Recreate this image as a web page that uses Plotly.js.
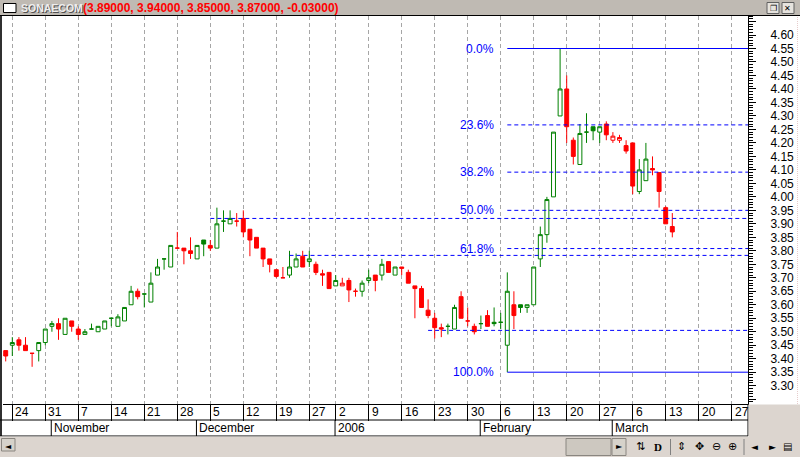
<!DOCTYPE html>
<html><head><meta charset="utf-8">
<script src="https://cdn.plot.ly/plotly-3.0.1.min.js"></script>
<style>html,body{margin:0;padding:0;background:#fff;overflow:hidden}#chart{width:800px;height:457px}</style>
</head><body><div id="chart"></div>
<script>
// ---------- data ----------
const ticker = "SONAECOM";
const opens  = [3.43,3.45,3.47,3.45,3.42,3.43,3.46,3.52,3.53,3.49,3.54,3.51,3.49,3.51,3.50,3.51,3.55,3.52,3.54,3.60,
                3.65,3.64,3.61,3.71,3.77,3.74,3.81,3.81,3.80,3.77,3.84,3.82,3.81,3.91,3.90,3.91,3.92,3.88,3.85,3.81,
                3.77,3.73,3.70,3.71,3.74,3.78,3.76,3.75,3.715,3.72,3.67,3.67,3.69,3.65,3.65,3.69,3.71,3.71,3.76,3.71,
                3.74,3.72,3.67,3.66,3.58,3.55,3.515,3.52,3.51,3.63,3.54,3.52,3.53,3.56,3.535,3.535,3.45,3.60,3.60,3.59,
                3.60,3.77,3.86,4.00,4.30,4.40,4.21,4.12,4.24,4.26,4.24,4.27,4.21,4.21,4.19,4.20,4.02,4.06,4.105,4.09,
                3.96,3.89];
const highs  = [3.43,3.48,3.48,3.48,3.42,3.46,3.51,3.54,3.55,3.55,3.54,3.52,3.51,3.53,3.52,3.54,3.55,3.565,3.59,3.67,
                3.66,3.64,3.72,3.77,3.77,3.82,3.87,3.81,3.85,3.82,3.84,3.84,3.96,3.95,3.95,3.94,3.95,3.88,3.85,3.81,
                3.77,3.73,3.74,3.80,3.79,3.80,3.80,3.76,3.73,3.72,3.71,3.70,3.70,3.66,3.69,3.73,3.71,3.77,3.76,3.74,
                3.74,3.73,3.67,3.67,3.62,3.57,3.53,3.53,3.60,3.65,3.59,3.53,3.56,3.58,3.59,3.57,3.72,3.65,3.60,3.60,
                3.74,3.89,4.00,4.24,4.55,4.45,4.22,4.27,4.31,4.26,4.26,4.28,4.24,4.23,4.21,4.20,4.14,4.20,4.15,4.09,
                3.965,3.94];
const lows   = [3.39,3.41,3.43,3.43,3.37,3.39,3.45,3.50,3.47,3.49,3.50,3.47,3.49,3.51,3.50,3.51,3.52,3.52,3.54,3.60,
                3.62,3.59,3.61,3.71,3.73,3.74,3.81,3.75,3.77,3.77,3.78,3.80,3.81,3.87,3.90,3.89,3.85,3.78,3.81,3.74,
                3.72,3.70,3.70,3.70,3.74,3.74,3.74,3.71,3.67,3.66,3.67,3.67,3.61,3.63,3.63,3.68,3.65,3.69,3.72,3.71,
                3.71,3.68,3.55,3.59,3.55,3.475,3.48,3.49,3.51,3.55,3.52,3.49,3.51,3.52,3.52,3.51,3.35,3.51,3.57,3.57,
                3.60,3.74,3.83,4.00,4.30,4.20,4.12,4.12,4.20,4.21,4.20,4.21,4.20,4.20,4.16,4.01,4.01,4.06,4.08,3.96,
                3.90,3.85];
const closes = [3.41,3.46,3.45,3.43,3.42,3.46,3.51,3.53,3.51,3.55,3.52,3.49,3.50,3.51,3.52,3.54,3.55,3.555,3.59,3.65,
                3.63,3.64,3.68,3.74,3.77,3.82,3.81,3.80,3.79,3.82,3.825,3.81,3.90,3.91,3.92,3.91,3.87,3.84,3.81,3.77,
                3.75,3.705,3.70,3.74,3.77,3.74,3.77,3.72,3.71,3.66,3.69,3.68,3.655,3.65,3.68,3.70,3.69,3.75,3.72,3.74,
                3.735,3.68,3.66,3.59,3.56,3.515,3.51,3.52,3.59,3.55,3.54,3.50,3.53,3.52,3.53,3.535,3.65,3.56,3.59,3.60,
                3.74,3.86,3.99,4.24,4.40,4.26,4.15,4.235,4.24,4.245,4.26,4.23,4.225,4.22,4.17,4.04,4.10,4.14,4.10,4.02,
                3.90,3.87];

// trading-day index of the first session of each week, and its label
const weekTickIdx    = [1,6,11,16,21,26,31,36,41,46,50,55,60,65,70,75,80,85,90,95,100,105,110];
const weekTickLabels = ["24","31","7","14","21","28","5","12","19","27","2","9","16","23","30","6","13","20","27","6","13","20","27"];
const monthIdx    = [7,29,50,72,92];
const monthLabels = ["November","December","2006","February","March"];

// Fibonacci retracement levels (%) and the horizontal support lines
const fibLevels = [0, 23.6, 38.2, 50, 61.8, 100];
const supportLevels   = [3.92, 3.783, 3.505];
const supportStartIdx = [31, 43, 64];

// ---------- styling / geometry ----------
const GREEN = "#008000", RED = "#ff0000", BLUE = "#0000ff";
const FONT = "Liberation Sans, Arial, sans-serif";
const W = 800, H = 457, PL = 3, PR = 748, PT = 16, PB = 404;
const xRange = [-0.41, 112.47];
const yRange = [3.2321, 4.6705];
const px2x = p => (p - PL) / (PR - PL);
const py2y = p => (PB - p) / (PB - PT);

// ---------- traces ----------
const idx = closes.map((_, i) => i);
const isUp = closes.map((c, i) => i === 0 ? c > opens[0] : c > closes[i - 1]);
function pick(arr, want) { return arr.filter((_, i) => isUp[i] === want); }
function candleTrace(want, color) {
  return {
    type: "candlestick",
    x: pick(idx, want), open: pick(opens, want), high: pick(highs, want),
    low: pick(lows, want), close: pick(closes, want),
    increasing: { line: { color: color, width: 1 }, fillcolor: "#ffffff" },
    decreasing: { line: { color: color, width: 1 }, fillcolor: color },
    whiskerwidth: 0, hoverinfo: "skip", showlegend: false
  };
}
const data = [candleTrace(true, GREEN), candleTrace(false, RED)];

// ---------- fib ----------
const fibHigh = Math.max(...highs);
const fibLow = Math.min(...lows);
const fibStart = lows.indexOf(fibLow);

const shapes = [];
const annotations = [];

// title bar
shapes.push({type:"rect", xref:"paper", yref:"paper", x0:px2x(0), x1:px2x(800), y0:py2y(15.5), y1:py2y(0),
  fillcolor:"#bfbab3", line:{width:0}, layer:"below"});
shapes.push({type:"line", xref:"paper", yref:"paper", x0:px2x(0), x1:px2x(800), y0:py2y(15.5), y1:py2y(15.5),
  line:{color:"#000", width:1}});
shapes.push({type:"rect", xref:"paper", yref:"paper", x0:px2x(3.5), x1:px2x(16), y0:py2y(12.5), y1:py2y(3.5),
  fillcolor:"#ffffff", line:{color:"#000", width:1}});
// window buttons
[[767,779,"❐"],[782,794,"✕"]].forEach(b => {
  shapes.push({type:"rect", xref:"paper", yref:"paper", x0:px2x(b[0]), x1:px2x(b[1]), y0:py2y(13.5), y1:py2y(2.5),
    fillcolor:"#e6e3de", line:{color:"#606060", width:1}});
  annotations.push({xref:"paper", yref:"paper", x:px2x((b[0]+b[1])/2), y:py2y(8), text:b[2], showarrow:false,
    xanchor:"center", yanchor:"middle", font:{family:"DejaVu Sans", size:8, color:"#000"}});
});
// ticker + last values
const n = closes.length - 1;
const lastTxt = "(" + [opens[n], highs[n], lows[n], closes[n], closes[n] - closes[n - 1]].map(v => v.toFixed(5)).join(", ") + ")";
annotations.push({xref:"paper", yref:"paper", x:px2x(19.5), y:py2y(8.5), text:"<b>"+ticker+"</b>", showarrow:false,
  xanchor:"left", yanchor:"middle", font:{family:FONT, size:10.5, color:"#505050"}});
annotations.push({xref:"paper", yref:"paper", x:px2x(18.5), y:py2y(7.5), text:"<b>"+ticker+"</b>", showarrow:false,
  xanchor:"left", yanchor:"middle", font:{family:FONT, size:10.5, color:"#eeeeee"}});
annotations.push({xref:"paper", yref:"paper", x:px2x(81), y:py2y(8), text:"<b>"+lastTxt+"</b>", showarrow:false,
  xanchor:"left", yanchor:"middle", font:{family:FONT, size:12, color:RED}});

// left frame line
shapes.push({type:"line", xref:"paper", yref:"paper", x0:px2x(1), x1:px2x(1), y0:py2y(16), y1:py2y(436),
  line:{color:"#303030", width:2}});
// date rows frame
shapes.push({type:"line", xref:"paper", yref:"paper", x0:px2x(0), x1:px2x(748), y0:py2y(420), y1:py2y(420), line:{color:"#000", width:1}});
shapes.push({type:"line", xref:"paper", yref:"paper", x0:px2x(0), x1:px2x(748), y0:py2y(436), y1:py2y(436), line:{color:"#000", width:1}});
shapes.push({type:"line", xref:"paper", yref:"paper", x0:px2x(748), x1:px2x(748), y0:py2y(404), y1:py2y(436), line:{color:"#000", width:1}});
// gray areas (right of date rows, bottom bar)
shapes.push({type:"rect", xref:"paper", yref:"paper", x0:px2x(748.5), x1:px2x(800), y0:py2y(457), y1:py2y(404.5),
  fillcolor:"#dcd5cf", line:{width:0}});
shapes.push({type:"rect", xref:"paper", yref:"paper", x0:px2x(0), x1:px2x(800), y0:py2y(457), y1:py2y(436.5),
  fillcolor:"#dcd5cf", line:{width:0}});
shapes.push({type:"line", xref:"paper", yref:"paper", x0:px2x(797.5), x1:px2x(797.5), y0:py2y(404), y1:py2y(16),
  line:{color:"#e6cccc", width:1, dash:"1px,1px"}});

// month separators and labels
monthIdx.forEach((m, k) => {
  shapes.push({type:"line", xref:"x", yref:"paper", x0:m - 0.1, x1:m - 0.1, y0:py2y(420), y1:py2y(436), line:{color:"#000", width:1}});
  annotations.push({xref:"x", yref:"paper", x:m - 0.1, y:py2y(428), text:monthLabels[k], showarrow:false,
    xanchor:"left", yanchor:"middle", xshift:0.5, font:{family:FONT, size:12, color:"#000"}});
});
// week day labels
weekTickIdx.forEach((w, k) => {
  annotations.push({xref:"x", yref:"paper", x:w, y:py2y(412), text:weekTickLabels[k], showarrow:false,
    xanchor:"left", yanchor:"middle", xshift:1, font:{family:FONT, size:12, color:"#000"}});
});

// bottom bar controls
function btn(x0, x1, y0, y1, fill) {
  shapes.push({type:"rect", xref:"paper", yref:"paper", x0:px2x(x0), x1:px2x(x1), y0:py2y(y1), y1:py2y(y0),
    fillcolor:fill, line:{color:"#8a8680", width:1}});
}
function icon(xc, txt, size, fam) {
  annotations.push({xref:"paper", yref:"paper", x:px2x(xc), y:py2y(446.5), text:txt, showarrow:false,
    xanchor:"center", yanchor:"middle", font:{family:fam || "DejaVu Sans", size:size, color:"#000"}});
}
btn(1.5, 15, 438.5, 451, "#d6d2ca"); icon(8.3, "◄", 8);
btn(566, 611, 438.5, 455.5, "#cdc8c0");
btn(612, 626, 438.5, 455.5, "#d6d2ca"); icon(619, "►", 8);
[670.5, 744].forEach(xv => shapes.push({type:"line", xref:"paper", yref:"paper", x0:px2x(xv), x1:px2x(xv),
  y0:py2y(455), y1:py2y(439), line:{color:"#808080", width:1}}));
icon(640, "⇅", 11); icon(657.5, "<b>D</b>", 11, "Liberation Serif");
icon(681, "⇕", 11); icon(699, "✥", 11); icon(716, "⊖", 11); icon(732.5, "⊕", 11);
icon(754.5, "◄", 9); icon(772.5, "►", 9); icon(788, "▤", 10);

// support lines
supportLevels.forEach((v, k) => {
  shapes.push({type:"line", xref:"x", yref:"y", x0:supportStartIdx[k], x1:xRange[1], y0:v, y1:v,
    line:{color:BLUE, width:1, dash:"4px,3px"}, layer:"above"});
});
// fibonacci lines + labels
fibLevels.forEach(lv => {
  const v = fibHigh - (fibHigh - fibLow) * lv / 100;
  const solid = (lv === 0 || lv === 100);
  shapes.push({type:"line", xref:"x", yref:"y", x0:fibStart, x1:xRange[1], y0:v, y1:v,
    line:{color:BLUE, width:1, dash: solid ? "solid" : "4px,3px"}, layer:"above"});
  annotations.push({xref:"x", yref:"y", x:fibStart, y:v, text:lv.toFixed(1) + "%", showarrow:false,
    xanchor:"right", yanchor:"middle", xshift:-11, font:{family:FONT, size:12, color:BLUE}});
});

const layout = {
  width: W, height: H,
  margin: {l: PL, r: W - PR, t: PT, b: H - PB, pad: 0},
  paper_bgcolor: "#ffffff", plot_bgcolor: "#ffffff",
  showlegend: false, hovermode: false, dragmode: false,
  boxgap: 0.15, boxgroupgap: 0.3,
  xaxis: {
    type: "linear", range: xRange, fixedrange: true, rangeslider: {visible: false},
    tickmode: "array", tickvals: weekTickIdx, showticklabels: false,
    ticks: "outside", ticklen: 16, tickcolor: "#000", tickwidth: 1,
    showgrid: true, gridcolor: "#a6a6a6", gridwidth: 1, griddash: "4px,3px",
    showline: true, linecolor: "#000", linewidth: 1, zeroline: false, automargin: false
  },
  yaxis: {
    side: "right", range: yRange, fixedrange: true,
    tickmode: "linear", tick0: 0, dtick: 0.05, tickformat: ".2f",
    labelalias: {"3.25": "", "4.65": ""},
    ticks: "outside", ticklen: 7, tickcolor: "#000", tickwidth: 1,
    ticklabelstandoff: 12,
    minor: {dtick: 0.01, ticks: "outside", ticklen: 4, tickcolor: "#000", showgrid: false},
    showgrid: false, showline: true, linecolor: "#000", linewidth: 1, zeroline: false, automargin: false,
    tickfont: {family: FONT, size: 12, color: "#000"}
  },
  shapes: shapes,
  annotations: annotations
};

Plotly.newPlot("chart", data, layout, {staticPlot: true, displayModeBar: false});
</script>
</body></html>
